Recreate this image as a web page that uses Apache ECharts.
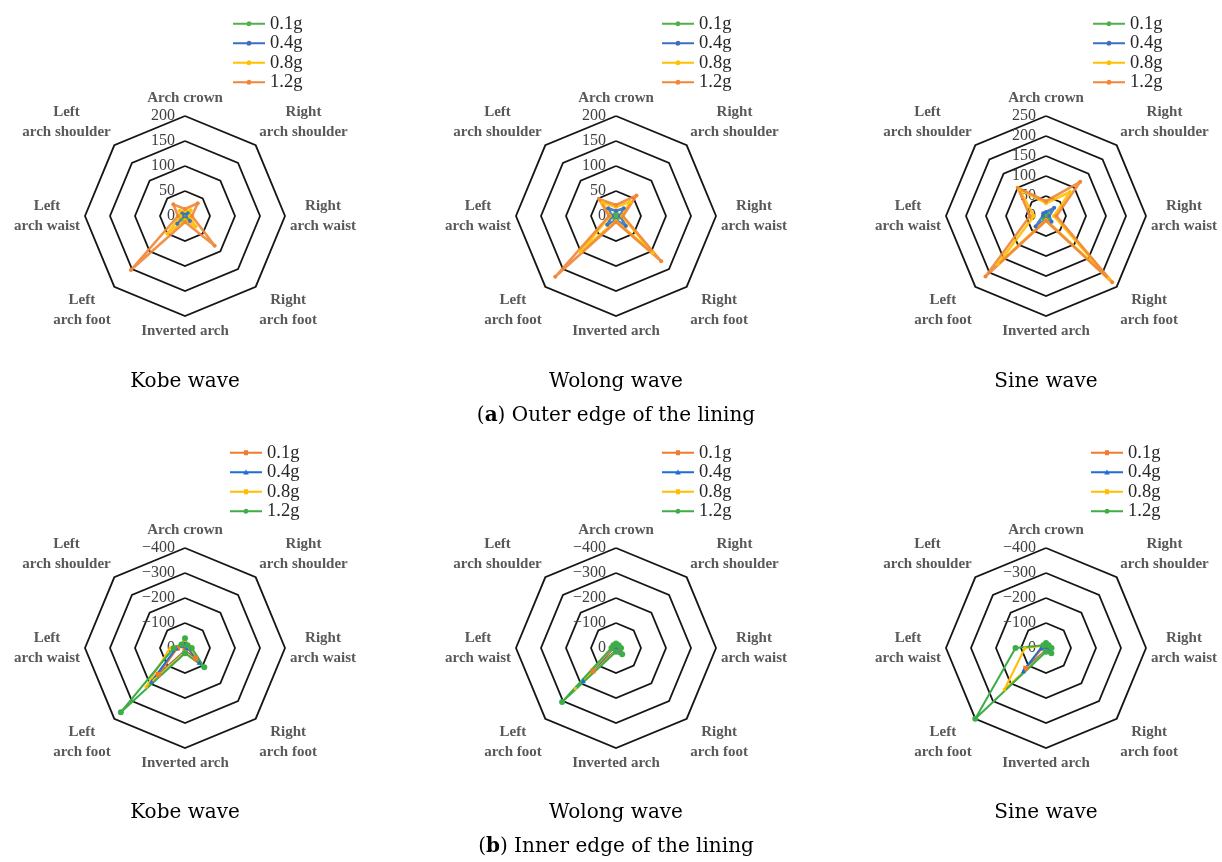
<!DOCTYPE html>
<html>
<head>
<meta charset="utf-8">
<script src="https://cdn.jsdelivr.net/npm/echarts@6/dist/echarts.min.js"></script>
<style>
  html, body { margin: 0; padding: 0; background: #ffffff; }
  #chart { width: 1222px; height: 862px; }
</style>
</head>
<body>
<div id="chart"></div>
<script>
// Measuring positions around the lining, listed clockwise from the crown
const positions = [
  'Arch crown', 'Right arch shoulder', 'Right arch waist', 'Right arch foot',
  'Inverted arch', 'Left arch foot', 'Left arch waist', 'Left arch shoulder'
];
const levels = ['0.1g', '0.4g', '0.8g', '1.2g'];
const waves = ['Kobe wave', 'Wolong wave', 'Sine wave'];

// Ring tick values
const outerTicks = [0, 50, 100, 150, 200];
const outerTicksSine = [0, 50, 100, 150, 200, 250];
const innerTicks = [0, -100, -200, -300, -400];

// Outer edge of the lining (one row per intensity, columns follow `positions`)
const kobeOuter = [
  [3, 4, 3, 6, 3, 8, 3, 4],
  [6, 8, 6, 14, 5, 22, 6, 8],
  [10, 16, 9, 30, 8, 50, 9, 15],
  [14, 36, 14, 84, 12, 153, 14, 33]
];
const wolongOuter = [
  [4, 5, 3, 6, 3, 6, 3, 5],
  [10, 22, 8, 28, 8, 25, 8, 22],
  [18, 40, 12, 104, 10, 100, 12, 38],
  [22, 58, 14, 128, 12, 172, 14, 48]
];
const sineOuter = [
  [4, 8, 4, 8, 3, 10, 4, 5],
  [10, 29, 8, 20, 8, 37, 8, 10],
  [32, 85, 20, 222, 10, 170, 30, 95],
  [37, 121, 26, 234, 12, 214, 40, 100]
];

// Inner edge of the lining
const kobeInner = [
  [-15, -8, -10, -60, -10, -150, -30, -12],
  [-20, -10, -12, -80, -12, -190, -35, -15],
  [-30, -12, -20, -105, -15, -220, -60, -18],
  [-39, -15, -27, -109, -21, -363, -45, -20]
];
const wolongInner = [
  [-10, -8, -10, -20, -8, -130, -10, -8],
  [-12, -10, -12, -25, -10, -185, -12, -10],
  [-15, -12, -15, -30, -12, -230, -15, -12],
  [-18, -15, -20, -35, -15, -305, -18, -15]
];
const sineInner = [
  [-10, -8, -10, -15, -8, -115, -15, -8],
  [-12, -10, -12, -20, -10, -128, -20, -10],
  [-15, -12, -18, -25, -12, -236, -84, -12],
  [-20, -15, -22, -30, -15, -400, -122, -15]
];

const colorsOuter = ['#52b04b', '#3b6fc2', '#ffc000', '#f08637'];
const colorsInner = ['#f27a2c', '#1f6dd6', '#ffbe00', '#3cad47'];
const symbolsOuter = ['circle', 'circle', 'circle', 'circle'];
const symbolsInner = ['rect', 'triangle', 'rect', 'circle'];

const SERIF = '"Liberation Serif", "Times New Roman", serif';
const CAPTION_FONT = '"DejaVu Serif", "Liberation Serif", serif';

// ECharts lays radar axes out counter-clockwise, so walk the list that way
const ccwOrder = [0, 7, 6, 5, 4, 3, 2, 1];

// Axis names: side words on their own line, diagonal names lifted/lowered off the corner
function axisNameText(name) {
  const i = positions.indexOf(name);
  const sp = name.indexOf(' ');
  const lines = (name.startsWith('Left') || name.startsWith('Right'))
    ? [name.slice(0, sp), name.slice(sp + 1)] : [name];
  let txt = lines.map(l => '{c|' + l + '}').join('\n');
  if (i === 1 || i === 7) txt = txt + '\n\n';
  if (i === 3 || i === 5) txt = '\n\n' + txt;
  return txt;
}

// Legend marker: a short line with the series marker in the middle
function legendIcon(shape) {
  const line = 'M0,3.1L32,3.1L32,4.9L0,4.9Z';
  let mark;
  if (shape === 'rect') mark = 'M14,1.5L18,1.5L18,6.5L14,6.5Z';
  else if (shape === 'triangle') mark = 'M16,1.2L18.8,6.2L13.2,6.2Z';
  else mark = 'M16,1.5A2.5,2.5,0,1,1,15.99,1.5Z';
  return 'path://' + line + ' ' + mark + ' M0,1L0.01,1L0.01,7L0,7Z';
}

const panels = [
  { rows: kobeOuter, ticks: outerTicks, inner: false, cx: 185, cy: 216, lx: 233, ly: 14 },
  { rows: wolongOuter, ticks: outerTicks, inner: false, cx: 616, cy: 216, lx: 662, ly: 14 },
  { rows: sineOuter, ticks: outerTicksSine, inner: false, cx: 1046, cy: 216, lx: 1093, ly: 14 },
  { rows: kobeInner, ticks: innerTicks, inner: true, cx: 185, cy: 648, lx: 230, ly: 443 },
  { rows: wolongInner, ticks: innerTicks, inner: true, cx: 616, cy: 648, lx: 662, ly: 443 },
  { rows: sineInner, ticks: innerTicks, inner: true, cx: 1046, cy: 648, lx: 1091, ly: 443 }
];

const radar = [], series = [], legend = [], title = [];

panels.forEach((p, k) => {
  const top = Math.max(...p.ticks.map(Math.abs));
  const colors = p.inner ? colorsInner : colorsOuter;
  const symbols = p.inner ? symbolsInner : symbolsOuter;
  const sign = p.inner ? -1 : 1;

  radar.push({
    center: [p.cx, p.cy],
    radius: 100,
    startAngle: 90,
    shape: 'polygon',
    splitNumber: p.ticks.length - 1,
    nameGap: 5,
    axisName: {
      formatter: (name) => axisNameText(name),
      color: '#595959',
      fontFamily: SERIF,
      fontSize: 15,
      fontWeight: 'bold',
      lineHeight: 20,
      rich: {
        c: { align: 'center', color: '#595959', fontFamily: SERIF, fontSize: 15, fontWeight: 'bold', lineHeight: 20 }
      }
    },
    indicator: ccwOrder.map((i, n) => ({
      name: positions[i],
      min: 0,
      max: top,
      axisLabel: { show: n === 0 }
    })),
    axisLine: { show: false },
    axisTick: { show: false },
    axisLabel: {
      show: false,
      margin: 10,
      color: '#404040',
      fontFamily: SERIF,
      fontSize: 16,
      formatter: (v) => (p.inner && v !== 0 ? '\u2212' + v : String(v))
    },
    splitLine: { lineStyle: { color: '#161616', width: 1.8 } },
    splitArea: { show: false }
  });

  series.push({
    type: 'radar',
    radarIndex: k,
    z: 3,
    data: levels.map((lv, j) => ({
      name: lv,
      value: ccwOrder.map(i => sign * p.rows[j][i]),
      symbol: symbols[j],
      symbolSize: p.inner ? (j === 3 ? 6 : (j === 2 ? 3 : 5)) : 4,
      itemStyle: { color: colors[j] },
      lineStyle: { color: colors[j], width: p.inner ? 2 : 2.6, opacity: p.inner ? 1 : 0.9 }
    }))
  });

  legend.push({
    orient: 'vertical',
    left: p.lx,
    top: p.ly,
    padding: 0,
    itemGap: 0,
    itemWidth: 32,
    itemHeight: 8,
    selectedMode: false,
    textStyle: { fontFamily: SERIF, fontSize: 18.5, color: '#262626', lineHeight: 19.5 },
    data: levels.map((lv, j) => ({
      name: lv,
      icon: legendIcon(symbols[j]),
      itemStyle: { color: colors[j], borderColor: colors[j], borderWidth: 0 }
    }))
  });
});

// Panel captions
const captionStyle = { fontFamily: CAPTION_FONT, fontSize: 20, fontWeight: 'normal', color: '#000000', lineHeight: 24 };
waves.forEach((w, i) => {
  [370, 801].forEach(y => {
    title.push({ text: w, left: panels[i].cx, top: y, textAlign: 'center', padding: 0, textStyle: captionStyle });
  });
});
const groupCaptions = [
  { tag: 'a', text: ' Outer edge of the lining', top: 404 },
  { tag: 'b', text: ' Inner edge of the lining', top: 835 }
];
groupCaptions.forEach(g => {
  title.push({
    text: '({b|' + g.tag + '})' + g.text,
    left: 616, top: g.top, textAlign: 'center', padding: 0,
    textStyle: Object.assign({}, captionStyle, {
      rich: { b: { fontFamily: CAPTION_FONT, fontSize: 20, fontWeight: 'bold', color: '#000000', lineHeight: 24 } }
    })
  });
});

const chart = echarts.init(document.getElementById('chart'), null, { renderer: 'canvas' });
chart.setOption({
  backgroundColor: '#ffffff',
  animation: false,
  title: title,
  legend: legend,
  radar: radar,
  series: series
});
</script>
</body>
</html>
